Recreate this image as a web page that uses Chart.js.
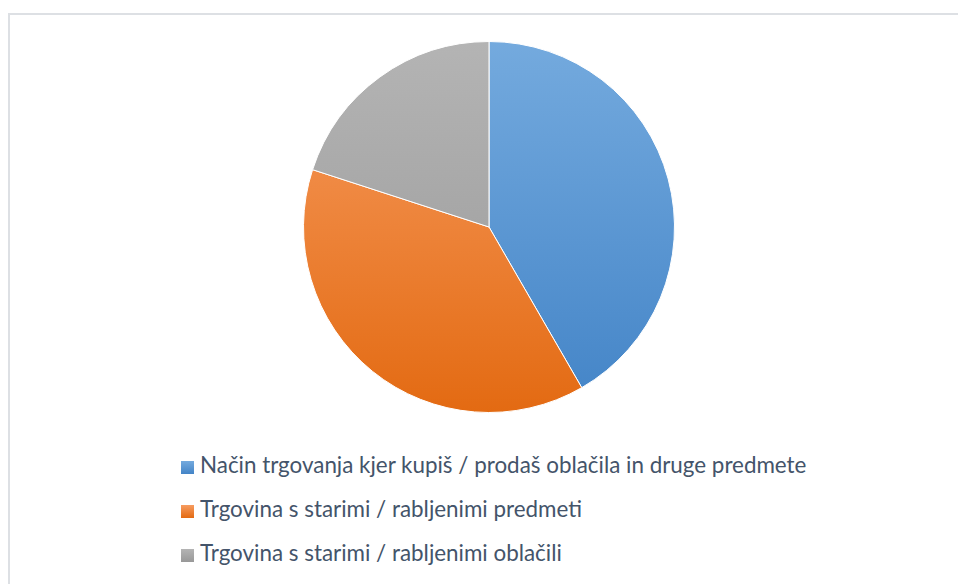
<!DOCTYPE html>
<html>
<head>
<meta charset="utf-8">
<script src="https://cdn.jsdelivr.net/npm/chart.js@4"></script>
<style>
	html, body { margin: 0; padding: 0; background: #fff; }
	body { width: 958px; height: 584px; position: relative; overflow: hidden; }
	#frame {
		position: absolute; left: 8px; top: 13px; width: 960px; height: 600px;
		border: 2px solid #DDE0E4; box-sizing: border-box;
	}
	#pieBox { position: absolute; left: 303px; top: 41px; width: 372px; height: 372px; }
	#legend {
		position: absolute; left: 181px; top: 447px; margin: 0; padding: 0; list-style: none;
		font-family: Lato, "Open Sans", sans-serif; font-size: 22.4px; color: #44546A;
	}
	#legend li { height: 44px; line-height: 36px; white-space: nowrap; }
	#legend span.box {
		display: inline-block; width: 13px; height: 13px; margin-right: 6px; vertical-align: -1px;
	}
</style>
</head>
<body>
<div id="frame"></div>
<div id="pieBox"><canvas id="pie"></canvas></div>
<ul id="legend"></ul>
<script>
	let labels = [
		"Način trgovanja kjer kupiš / prodaš oblačila in druge predmete",
		"Trgovina s starimi / rabljenimi predmeti",
		"Trgovina s starimi / rabljenimi oblačili"
	];
	let values = [25, 23, 12];
	let topColors = ["#74AADE", "#F79C60", "#B4B4B4"];
	let bottomColors = ["#4384C7", "#E36A12", "#989898"];
	let legendColors = ["#5B9BD5", "#ED7D31", "#A5A5A5"];

	function sliceFill(ctx) {
		let chart = ctx.chart;
		let area = chart.chartArea;
		if (!area) return legendColors[ctx.dataIndex];
		let g = chart.ctx.createLinearGradient(0, area.top, 0, area.bottom);
		g.addColorStop(0, topColors[ctx.dataIndex]);
		g.addColorStop(1, bottomColors[ctx.dataIndex]);
		return g;
	}

	let pie = new Chart(document.getElementById("pie"), {
		type: "pie",
		data: {
			labels: labels,
			datasets: [{
				data: values,
				backgroundColor: sliceFill,
				borderColor: "#ffffff",
				borderWidth: 1
			}]
		},
		options: {
			responsive: true,
			maintainAspectRatio: false,
			animation: false,
			layout: { padding: 0 },
			plugins: {
				legend: { display: false },
				tooltip: { enabled: false }
			}
		}
	});

	let legend = document.getElementById("legend");
	labels.forEach(function (l, i) {
		let li = document.createElement("li");
		let box = document.createElement("span");
		box.className = "box";
		box.style.background = "linear-gradient(" + topColors[i] + ", " + bottomColors[i] + ")";
		li.appendChild(box);
		li.appendChild(document.createTextNode(l));
		legend.appendChild(li);
	});
</script>
</body>
</html>
